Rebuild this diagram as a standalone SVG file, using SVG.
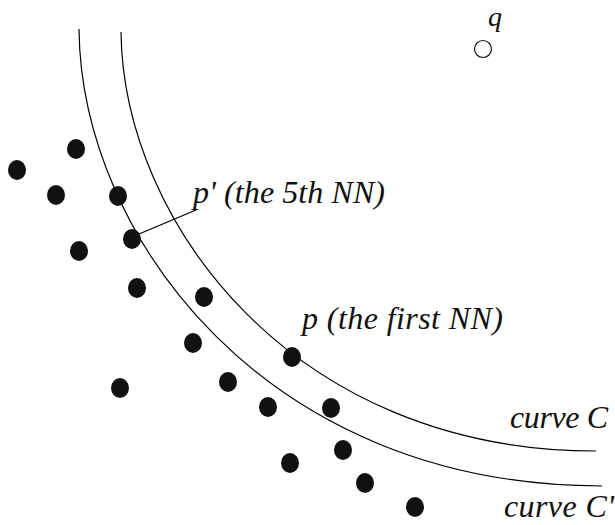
<svg xmlns="http://www.w3.org/2000/svg" width="615" height="525" viewBox="0 0 615 525">
<style>
.curve{fill:none;stroke:#000;stroke-width:1.2}
.dot{fill:#111}
.lbl{font-family:"Liberation Serif","Times New Roman",serif;font-style:italic;font-size:32px;fill:#111}
</style>
<rect width="615" height="525" fill="#fff"/>
<g id="connectors">
<path id="curveCprime" class="curve" d="M79,29 C81,236 265,486 602,486"/>
<path id="curveC" class="curve" d="M121,32 C123,221 292,451 596,451"/>
<line id="leader" class="curve" x1="139" y1="234" x2="196" y2="210"/>
</g>
<g id="q"><circle cx="483" cy="49" r="8.5" fill="#fff" stroke="#111" stroke-width="1.2"/><text class="lbl" x="488" y="26" style="font-size:28px">q</text></g>
<g id="points">
<ellipse class="dot" cx="17" cy="170" rx="9" ry="10"/>
<ellipse class="dot" cx="76" cy="149" rx="9" ry="10"/>
<ellipse class="dot" cx="56" cy="195" rx="9" ry="10"/>
<ellipse class="dot" cx="118" cy="196" rx="9" ry="10"/>
<ellipse class="dot" cx="79" cy="251" rx="9" ry="10"/>
<ellipse class="dot" cx="137" cy="288" rx="9" ry="10"/>
<ellipse class="dot" cx="204" cy="297" rx="9" ry="10"/>
<ellipse class="dot" cx="193" cy="343" rx="9" ry="10"/>
<ellipse class="dot" cx="120" cy="388" rx="9" ry="10"/>
<ellipse class="dot" cx="228" cy="382" rx="9" ry="10"/>
<ellipse class="dot" cx="268" cy="407" rx="9" ry="10"/>
<ellipse class="dot" cx="331" cy="408" rx="9" ry="10"/>
<ellipse class="dot" cx="343" cy="450" rx="9" ry="10"/>
<ellipse class="dot" cx="290" cy="463" rx="9" ry="10"/>
<ellipse class="dot" cx="365" cy="483" rx="9" ry="10"/>
<ellipse class="dot" cx="415" cy="507" rx="9" ry="10"/>
</g>
<g id="pprime"><ellipse class="dot" cx="132" cy="239" rx="9" ry="10"/><text class="lbl" x="193" y="203" textLength="192">p' (the 5th NN)</text></g>
<g id="p"><ellipse class="dot" cx="292" cy="357" rx="9" ry="10"/><text class="lbl" x="302" y="329" textLength="201">p (the first NN)</text></g>
<g id="labelC"><text class="lbl" x="510" y="428" textLength="98">curve C</text></g>
<g id="labelCprime"><text class="lbl" x="504" y="517" textLength="110">curve C'</text></g>
</svg>
